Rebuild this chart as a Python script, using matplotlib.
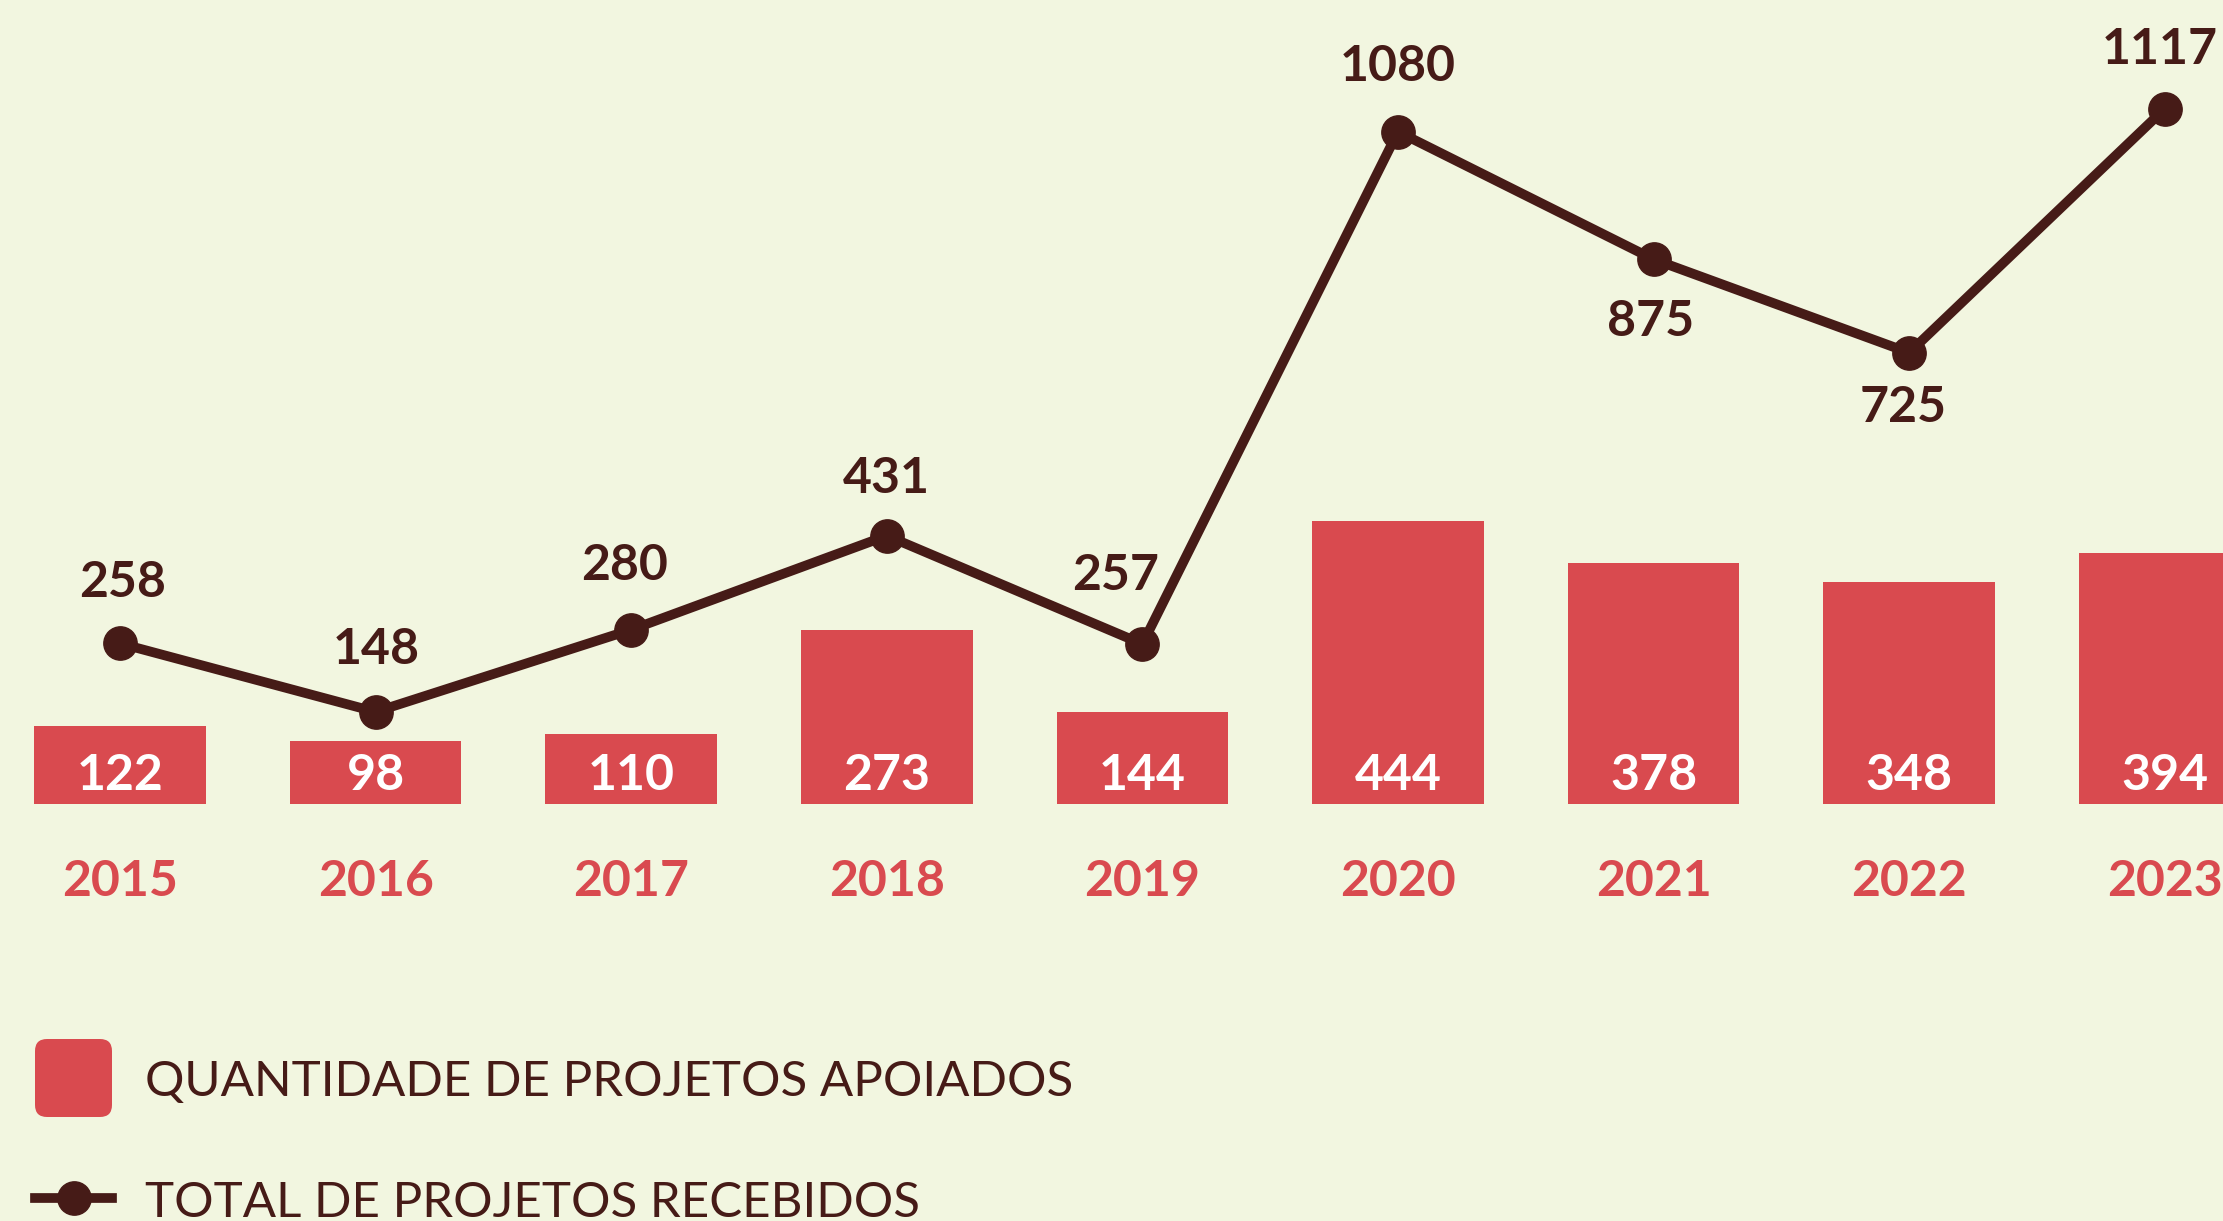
import matplotlib
matplotlib.use("Agg")
import matplotlib.pyplot as plt
from matplotlib.patches import FancyBboxPatch
from matplotlib.lines import Line2D

years = ["2015", "2016", "2017", "2018", "2019", "2020", "2021", "2022", "2023"]
apoiados = [122, 98, 110, 273, 144, 444, 378, 348, 394]
recebidos = [258, 148, 280, 431, 257, 1080, 875, 725, 1117]

legend_bar = "QUANTIDADE DE PROJETOS APOIADOS"
legend_line = "TOTAL DE PROJETOS RECEBIDOS"

BG = "#F2F6E0"
RED = "#D94A4F"
BROWN = "#461B17"

W, H = 2223, 1221
DPI = 100
fig = plt.figure(figsize=(W / DPI, H / DPI), dpi=DPI, facecolor=BG)

ax = fig.add_axes([0, 0, 1, 1])
ax.set_facecolor(BG)
ax.axis("off")

x = list(range(len(years)))
px_per_x = 255.6
ax.set_xlim(-120 / px_per_x, (W - 120) / px_per_x)
bar_scale = 0.638
bar_base = 417
ax.set_ylim(-bar_base / bar_scale, (H - bar_base) / bar_scale)

ax.bar(x, apoiados, width=0.672, color=RED, zorder=2)

PT = 72 / DPI  # px -> points
FAM = ["Lato", "DejaVu Sans"]
for xi, v, yr in zip(x, apoiados, years):
    ax.annotate(str(v), (xi, 0), xytext=(0, 29 * PT), textcoords="offset points",
                ha="center", va="center", color="white", fontsize=36,
                fontweight="bold", family=FAM, zorder=5)
    ax.annotate(yr, (xi, 0), xytext=(0, -77 * PT), textcoords="offset points",
                ha="center", va="center", color=RED, fontsize=36,
                fontweight="bold", family=FAM)

ax2 = ax.twinx()
ax2.axis("off")
ax2.set_xlim(ax.get_xlim())
line_scale = 0.6225
line_base = 417
ax2.set_ylim(-line_base / line_scale, (H - line_base) / line_scale)
ax2.plot(x, recebidos, color=BROWN, lw=7, marker="o", markersize=24,
         solid_joinstyle="round", zorder=4)

label_offsets = [(3, -61), (1, -62), (-7, -64), (0, -57), (-27, -69),
                 (0, -65), (-3, 62), (-6, 55), (-5, -59)]
for xi, v, (dx, dy) in zip(x, recebidos, label_offsets):
    ax2.annotate(str(v), (xi, v), xytext=(dx * PT, -dy * PT), textcoords="offset points",
                 ha="center", va="center", color=BROWN, fontsize=36,
                 fontweight="bold", family=FAM)

# legend
sq = FancyBboxPatch((35 + 12, H - 1117 + 12), 77 - 24, 78 - 24,
                    boxstyle="round,pad=12", facecolor=RED, edgecolor="none",
                    transform=None, figure=fig)
fig.patches.append(sq)
fig.text(145 / W, (H - 1082) / H, legend_bar, ha="left", va="center",
         color=BROWN, fontsize=35.5, family=FAM)

ln = Line2D([35 / W, 112 / W], [(H - 1198) / H] * 2, transform=fig.transFigure,
            color=BROWN, lw=7, figure=fig)
fig.lines.append(ln)
mk = Line2D([74 / W], [(H - 1198) / H], transform=fig.transFigure,
            color=BROWN, marker="o", markersize=24, linestyle="none", figure=fig)
fig.lines.append(mk)
fig.text(145 / W, (H - 1203) / H, legend_line, ha="left", va="center",
         color=BROWN, fontsize=35.5, family=FAM)

fig.savefig("out.png", dpi=DPI, facecolor=BG)
